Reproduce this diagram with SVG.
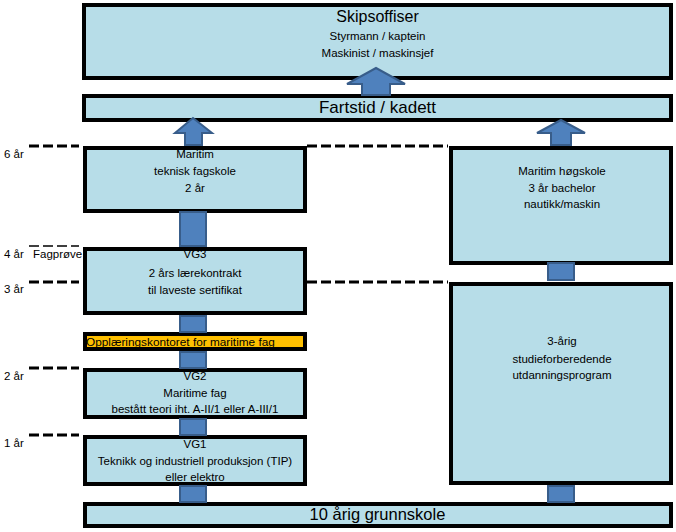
<svg xmlns="http://www.w3.org/2000/svg" width="676" height="532" viewBox="0 0 676 532">
<style>
.box{fill:#B7DDE8;stroke:#000;stroke-width:4}
.orange{fill:#FFC000;stroke:#000;stroke-width:4}
.conn{fill:#4F81BD;stroke:#385D8A;stroke-width:2}
.dash{stroke:#000;stroke-width:3;stroke-dasharray:10 4;fill:none}
.thin{stroke:#000;stroke-width:1.5;stroke-dasharray:10 4;fill:none}
text{font-family:"Liberation Sans",Arial,sans-serif;fill:#000}
.t{font-size:11.5px;text-anchor:middle}
.big{font-size:16.5px;text-anchor:middle}
.lbl{font-size:11.5px}
</style>
<rect width="676" height="532" fill="#fff"/>
<g id="year-markers">
<line class="dash" x1="29" y1="146" x2="79" y2="146"/>
<line class="dash" x1="307" y1="146" x2="448" y2="146"/>
<line class="thin" x1="29" y1="246" x2="79" y2="246"/>
<line class="dash" x1="29" y1="282" x2="79" y2="282"/>
<line class="dash" x1="307" y1="282" x2="448" y2="282"/>
<line class="dash" x1="29" y1="368" x2="79" y2="368"/>
<line class="dash" x1="29" y1="435" x2="79" y2="435"/>
<text class="lbl" x="4" y="158">6 år</text>
<text class="lbl" x="4" y="258">4 år</text>
<text class="lbl" x="33" y="258">Fagprøve</text>
<text class="lbl" x="4" y="293">3 år</text>
<text class="lbl" x="4" y="380">2 år</text>
<text class="lbl" x="4" y="447">1 år</text>
</g>
<g id="skipsoffiser">
<rect class="box" x="84" y="5" width="587" height="73"/>
<text class="big" x="377.5" y="22" style="font-size:16px">Skipsoffiser</text>
<text class="t" x="377.5" y="40">Styrmann / kaptein</text>
<text class="t" x="377.5" y="57">Maskinist / maskinsjef</text>
</g>
<g id="fartstid">
<rect class="box" x="84" y="96" width="587" height="24"/>
<text class="big" x="377.5" y="113" style="font-size:17px">Fartstid / kadett</text>
</g>
<g id="teknisk-fagskole">
<rect class="box" x="85" y="148" width="220" height="63"/>
<text class="t" x="195" y="158">Maritim</text>
<text class="t" x="195" y="175">teknisk fagskole</text>
<text class="t" x="195" y="192">2 år</text>
</g>
<g id="hogskole">
<rect class="box" x="451" y="148" width="220" height="115"/>
<text class="t" x="562" y="175">Maritim høgskole</text>
<text class="t" x="562" y="192">3 år bachelor</text>
<text class="t" x="562" y="208">nautikk/maskin</text>
</g>
<g id="vg3">
<rect class="box" x="85" y="249" width="220" height="64"/>
<text class="t" x="195" y="258">VG3</text>
<text class="t" x="195" y="277">2 års lærekontrakt</text>
<text class="t" x="195" y="294">til laveste sertifikat</text>
</g>
<g id="studieforberedende">
<rect class="box" x="451" y="284" width="220" height="199"/>
<text class="t" x="562" y="345">3-årig</text>
<text class="t" x="562" y="363">studieforberedende</text>
<text class="t" x="562" y="379">utdanningsprogram</text>
</g>
<g id="opplaeringskontoret">
<rect class="orange" x="85" y="334" width="220" height="15"/>
<text x="86" y="345.5" style="font-size:11.8px">Opplæringskontoret for maritime fag</text>
</g>
<g id="vg2">
<rect class="box" x="85" y="370" width="220" height="47"/>
<text class="t" x="195" y="380">VG2</text>
<text class="t" x="195" y="397">Maritime fag</text>
<text class="t" x="195" y="413">bestått teori iht. A-II/1 eller A-III/1</text>
</g>
<g id="vg1">
<rect class="box" x="85" y="437" width="220" height="47"/>
<text class="t" x="195" y="448">VG1</text>
<text class="t" x="195" y="465">Teknikk og industriell produksjon (TIP)</text>
<text class="t" x="195" y="481">eller elektro</text>
</g>
<g id="grunnskole">
<rect class="box" x="85" y="504" width="586" height="22"/>
<text class="big" x="377.5" y="520">10 årig grunnskole</text>
</g>
<g id="connectors">
<polygon class="conn" points="376,68 405,84 390,84 390,95 362,95 362,84 347,84"/>
<polygon class="conn" points="193,118 212,133 202,133 202,145 185,145 185,133 175,133"/>
<polygon class="conn" points="561,120 585,133 571,133 571,145 551,145 551,133 537,133"/>
<rect class="conn" x="180" y="212" width="26" height="34"/>
<rect class="conn" x="548" y="263" width="26" height="17"/>
<rect class="conn" x="180" y="316" width="26" height="16"/>
<rect class="conn" x="180" y="352" width="26" height="16"/>
<rect class="conn" x="180" y="419" width="26" height="16"/>
<rect class="conn" x="180" y="486" width="26" height="16"/>
<rect class="conn" x="548" y="486" width="26" height="16"/>
</g>
</svg>
